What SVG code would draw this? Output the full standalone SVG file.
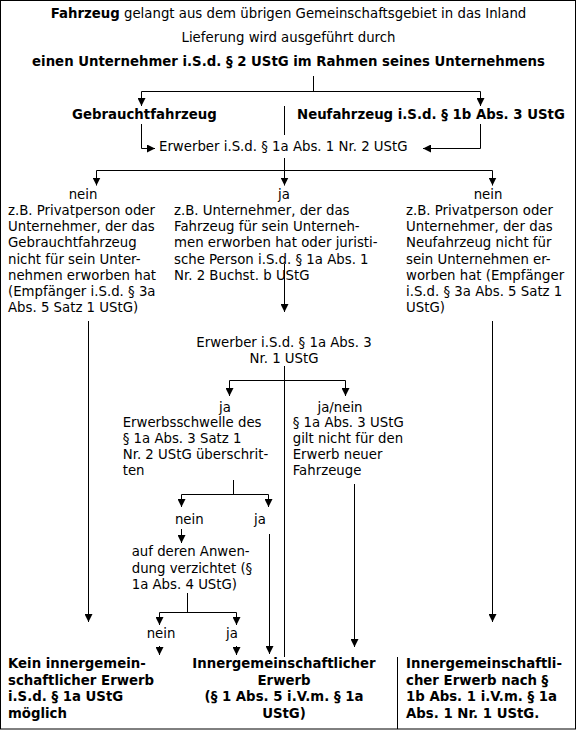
<svg xmlns="http://www.w3.org/2000/svg" width="577" height="730" viewBox="0 0 577 730">
<defs>
<marker id="ah" viewBox="0 0 8 8" refX="8" refY="4" markerWidth="8" markerHeight="8" markerUnits="userSpaceOnUse" orient="auto"><path d="M0,0 L8,4 L0,8 z" fill="#000"/></marker>
</defs>
<style>
text{font-family:"DejaVu Sans",Verdana,sans-serif;font-size:13.3px;fill:#000}
.b{font-weight:bold}
.m{text-anchor:middle}
#connectors line,#connectors path{stroke:#000;stroke-width:1;fill:none}
.a{marker-end:url(#ah)}
</style>
<rect x="0" y="0" width="577" height="730" fill="#fff"/>
<rect x="0.5" y="0.5" width="575" height="728.5" fill="none" stroke="#000"/>

<g id="n-header"><text class="m" x="288.5" y="18"><tspan class="b">Fahrzeug</tspan> gelangt aus dem übrigen Gemeinschaftsgebiet in das Inland</text></g>
<g id="n-lieferung"><text class="m" x="288.5" y="42">Lieferung wird ausgeführt durch</text></g>
<g id="n-unternehmer"><text class="m b" x="288.5" y="66">einen Unternehmer i.S.d. § 2 UStG im Rahmen seines Unternehmens</text></g>
<g id="n-gebraucht"><text class="b" x="72" y="119">Gebrauchtfahrzeug</text></g>
<g id="n-neu"><text class="b" x="297" y="119">Neufahrzeug i.S.d. § 1b Abs. 3 UStG</text></g>
<g id="n-erwerber1"><text x="159" y="151">Erwerber i.S.d. § 1a Abs. 1 Nr. 2 UStG</text></g>

<g id="n-left">
<text class="m" x="83" y="199">nein</text>
<text x="8" y="215">z.B. Privatperson oder</text>
<text x="8" y="231.2">Unternehmer, der das</text>
<text x="8" y="247.4">Gebrauchtfahrzeug</text>
<text x="8" y="263.6">nicht für sein Unter-</text>
<text x="8" y="279.8">nehmen erworben hat</text>
<text x="8" y="296">(Empfänger i.S.d. § 3a</text>
<text x="8" y="312.2">Abs. 5 Satz 1 UStG)</text>
</g>
<g id="n-center">
<text class="m" x="284" y="199">ja</text>
<text x="174" y="215">z.B. Unternehmer, der das</text>
<text x="174" y="231.2">Fahrzeug für sein Unterneh-</text>
<text x="174" y="247.4">men erworben hat oder juristi-</text>
<text x="174" y="263.6">sche Person i.S.d. § 1a Abs. 1</text>
<text x="174" y="279.8">Nr. 2 Buchst. b UStG</text>
</g>
<g id="n-right">
<text class="m" x="488" y="199">nein</text>
<text x="406" y="215">z.B. Privatperson oder</text>
<text x="406" y="231.2">Unternehmer, der das</text>
<text x="406" y="247.4">Neufahrzeug nicht für</text>
<text x="406" y="263.6">sein Unternehmen er-</text>
<text x="406" y="279.8">worben hat (Empfänger</text>
<text x="406" y="296">i.S.d. § 3a Abs. 5 Satz 1</text>
<text x="406" y="312.2">UStG)</text>
</g>

<g id="n-erwerber3">
<text class="m" x="284" y="346.5">Erwerber i.S.d. § 1a Abs. 3</text>
<text class="m" x="284" y="362.5">Nr. 1 UStG</text>
</g>
<g id="n-schwelle">
<text class="m" x="225" y="411.7">ja</text>
<text x="122.7" y="427">Erwerbsschwelle des</text>
<text x="122.7" y="443">§ 1a Abs. 3 Satz 1</text>
<text x="122.7" y="459">Nr. 2 UStG überschrit-</text>
<text x="122.7" y="475">ten</text>
</g>
<g id="n-janein">
<text class="m" x="340" y="411.7">ja/nein</text>
<text x="292.7" y="427">§ 1a Abs. 3 UStG</text>
<text x="292.7" y="443">gilt nicht für den</text>
<text x="292.7" y="459">Erwerb neuer</text>
<text x="292.7" y="475">Fahrzeuge</text>
</g>
<g id="n-nein1"><text class="m" x="189.3" y="524">nein</text></g>
<g id="n-ja1"><text class="m" x="260" y="524">ja</text></g>
<g id="n-verzicht">
<text x="131.7" y="556">auf deren Anwen-</text>
<text x="131.7" y="572.5">dung verzichtet (§</text>
<text x="131.7" y="589">1a Abs. 4 UStG)</text>
</g>
<g id="n-nein2"><text class="m" x="161" y="637.5">nein</text></g>
<g id="n-ja2"><text class="m" x="232" y="637.5">ja</text></g>

<g id="n-kein">
<text class="b" x="8" y="668">Kein innergemein-</text>
<text class="b" x="8" y="684.5">schaftlicher Erwerb</text>
<text class="b" x="8" y="701">i.S.d. § 1a UStG</text>
<text class="b" x="8" y="717.5">möglich</text>
</g>
<g id="n-ig">
<text class="b m" x="284" y="668">Innergemeinschaftlicher</text>
<text class="b m" x="284" y="684.5">Erwerb</text>
<text class="b m" x="284" y="701">(§ 1 Abs. 5 i.V.m. § 1a</text>
<text class="b m" x="284" y="717.5">UStG)</text>
</g>
<g id="n-ig1b">
<text class="b" x="406" y="668">Innergemeinschaftli-</text>
<text class="b" x="406" y="684.5">cher Erwerb nach §</text>
<text class="b" x="406" y="701">1b Abs. 1 i.V.m. § 1a</text>
<text class="b" x="406" y="717.5">Abs. 1 Nr. 1 UStG.</text>
</g>

<g id="connectors">
<line x1="313.5" y1="76" x2="313.5" y2="91.5"/>
<line x1="141.5" y1="91.5" x2="480.5" y2="91.5"/>
<line class="a" x1="141.5" y1="91.5" x2="141.5" y2="106"/>
<line class="a" x1="480.5" y1="91.5" x2="480.5" y2="106"/>
<line x1="284.5" y1="106" x2="284.5" y2="135"/>
<path class="a" d="M141.5,124 V148.5 H155"/>
<path class="a" d="M480.5,124 V148.5 H423"/>
<line x1="284.5" y1="158" x2="284.5" y2="170.5"/>
<line x1="96.5" y1="170.5" x2="492.5" y2="170.5"/>
<line class="a" x1="96.5" y1="170.5" x2="96.5" y2="185.5"/>
<line class="a" x1="284.5" y1="170.5" x2="284.5" y2="185.5"/>
<line class="a" x1="492.5" y1="170.5" x2="492.5" y2="185.5"/>
<line class="a" x1="284.5" y1="264" x2="284.5" y2="312"/>
<line class="a" x1="88.5" y1="321" x2="88.5" y2="622"/>
<line class="a" x1="492.5" y1="321" x2="492.5" y2="622"/>
<line x1="284.5" y1="366" x2="284.5" y2="657"/>
<line x1="229.5" y1="380.5" x2="345.5" y2="380.5"/>
<line class="a" x1="229.5" y1="380.5" x2="229.5" y2="396"/>
<line class="a" x1="345.5" y1="380.5" x2="345.5" y2="396"/>
<line x1="233.5" y1="480" x2="233.5" y2="494.5"/>
<line x1="181.5" y1="494.5" x2="268.5" y2="494.5"/>
<line class="a" x1="181.5" y1="494.5" x2="181.5" y2="507"/>
<line class="a" x1="268.5" y1="494.5" x2="268.5" y2="507"/>
<line class="a" x1="181.5" y1="529" x2="181.5" y2="543"/>
<line x1="187.5" y1="593" x2="187.5" y2="612.5"/>
<line x1="159.5" y1="612.5" x2="236.5" y2="612.5"/>
<line class="a" x1="159.5" y1="612.5" x2="159.5" y2="625"/>
<line class="a" x1="236.5" y1="612.5" x2="236.5" y2="625"/>
<line class="a" x1="159.5" y1="646" x2="159.5" y2="655"/>
<line class="a" x1="236.5" y1="646" x2="236.5" y2="655"/>
<line class="a" x1="269.5" y1="534" x2="269.5" y2="654"/>
<line class="a" x1="354.5" y1="484" x2="354.5" y2="647"/>
<line x1="397.5" y1="657" x2="397.5" y2="729"/>
</g>
</svg>
